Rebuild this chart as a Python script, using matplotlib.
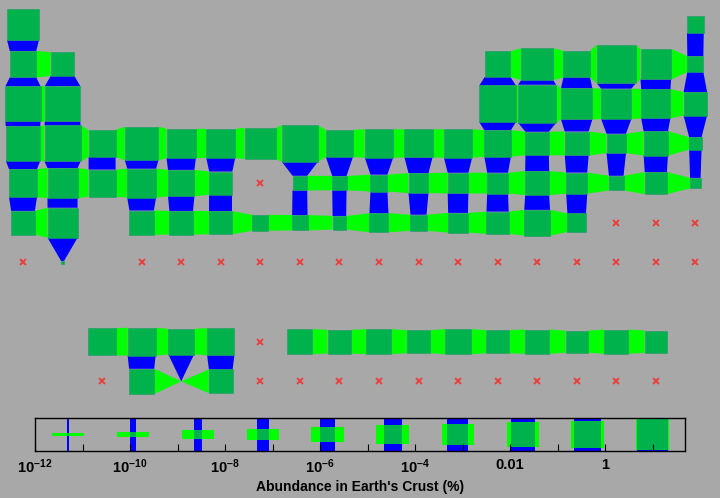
import numpy as np
import matplotlib
matplotlib.use("Agg")
import matplotlib.pyplot as plt
from matplotlib.patches import Polygon, Rectangle

# ── data: crust abundance in % by atomic number (nan = no value) ──────────────
SYMBOLS = [
    "H", "He", "Li", "Be", "B", "C", "N", "O", "F", "Ne",
    "Na", "Mg", "Al", "Si", "P", "S", "Cl", "Ar", "K", "Ca",
    "Sc", "Ti", "V", "Cr", "Mn", "Fe", "Co", "Ni", "Cu", "Zn",
    "Ga", "Ge", "As", "Se", "Br", "Kr", "Rb", "Sr", "Y", "Zr",
    "Nb", "Mo", "Tc", "Ru", "Rh", "Pd", "Ag", "Cd", "In", "Sn",
    "Sb", "Te", "I", "Xe", "Cs", "Ba", "La", "Ce", "Pr", "Nd",
    "Pm", "Sm", "Eu", "Gd", "Tb", "Dy", "Ho", "Er", "Tm", "Yb",
    "Lu", "Hf", "Ta", "W", "Re", "Os", "Ir", "Pt", "Au", "Hg",
    "Tl", "Pb", "Bi", "Po", "At", "Rn", "Fr", "Ra", "Ac", "Th",
    "Pa", "U", "Np", "Pu", "Am", "Cm", "Bk", "Cf", "Es", "Fm",
    "Md", "No", "Lr", "Rf", "Db", "Sg", "Bh", "Hs", "Mt", "Ds",
    "Rg", "Cn", "Nh", "Fl", "Mc", "Lv", "Ts", "Og",
]
nan = np.nan
ABUNDANCE = [
    0.15, 5.5e-7, 1.7e-3, 1.9e-4, 8.7e-4, 0.18, 2e-3, 46.0, 5.4e-2, 3e-7,
    2.3, 2.9, 8.2, 27.0, 0.1, 4.2e-2, 1.7e-2, 1.5e-4, 1.5, 5.0,
    2.6e-3, 0.66, 1.9e-2, 1.4e-2, 0.11, 6.3, 3e-3, 9e-3, 6.8e-3, 7.9e-3,
    1.9e-3, 1.4e-4, 2.1e-4, 5e-6, 3e-4, 1.5e-8, 6e-3, 3.6e-2, 2.9e-3, 1.3e-2,
    1.7e-3, 1.1e-4, nan, 9.9e-8, 7e-8, 6.3e-7, 7.9e-6, 1.5e-5, 1.6e-5, 2.2e-4,
    2e-5, 9.9e-8, 4.9e-5, 3e-9, 1.9e-4, 3.4e-2, 3.4e-3, 6e-3, 8.7e-4, 3.3e-3,
    nan, 6e-4, 1.8e-4, 5.2e-4, 9.4e-5, 6.2e-4, 1.2e-4, 3e-4, 4.5e-5, 2.8e-4,
    5.6e-5, 3.3e-4, 1.7e-4, 1.1e-4, 2.6e-7, 1.8e-7, 4e-8, 3.7e-6, 3.1e-7, 6.7e-6,
    5.3e-5, 1e-3, 2.5e-6, nan, nan, nan, nan, 6e-12, nan, 6e-4,
    5e-13, 1.8e-4, nan, nan, nan, nan, nan, nan, nan, nan,
    nan, nan, nan, nan, nan, nan, nan, nan, nan, nan,
    nan, nan, nan, nan, nan, nan, nan, nan,
]

# legend glyph abundances (log10 %) and axis ticks
LEGEND_LOG = [-11.31, -9.94, -8.57, -7.2, -5.84, -4.47, -3.1, -1.73, -0.37, 1.0]
TICK_LOG = [-12, -10, -8, -6, -4, -2, 0]
TICK_LABELS = [r"$10^{-12}$", r"$10^{-10}$", r"$10^{-8}$", r"$10^{-6}$",
               r"$10^{-4}$", "0.01", "1"]

# ── style ─────────────────────────────────────────────────────────────────────
BG = "#a8a8a8"
SQUARE = "#00b24c"
HBAR = "#00ff00"
VBAR = "#0000ff"
MISSING = "#e8403c"

W, H = 720, 498
CELL_X, CELL_Y = 39.55, 39.65   # px per table column / row
X0, Y0 = 23.0, 24.5             # px centre of group 1, period 1
SMAX = 38.7                     # px side of the most abundant element
LEG_H = 32.4                    # px height of legend strip

plt.rcParams["font.family"] = ["Liberation Sans", "DejaVu Sans"]
plt.rcParams["font.weight"] = "bold"
plt.rcParams["mathtext.fontset"] = "custom"
plt.rcParams["mathtext.rm"] = "Liberation Sans:bold"
plt.rcParams["mathtext.it"] = "Liberation Sans:bold"
plt.rcParams["mathtext.bf"] = "Liberation Sans:bold"


def grid_pos(z):
    """(column, row) in the table; f-block goes to rows 9 and 10."""
    if z == 1:
        return 1, 1
    if z == 2:
        return 18, 1
    for period, start in [(2, 3), (3, 11)]:
        k = z - start
        if 0 <= k < 8:
            return (k + 1 if k < 2 else k + 11), period
    for period, start in [(4, 19), (5, 37)]:
        k = z - start
        if 0 <= k < 18:
            return k + 1, period
    for period, start in [(6, 55), (7, 87)]:
        k = z - start
        if 0 <= k < 32:
            if k < 2:
                return k + 1, period
            if k < 17:
                return k + 1, period + 3
            return k - 13, period


logs = np.log10(np.array(ABUNDANCE, dtype=float))
lmin, lmax = np.nanmin(logs), np.nanmax(logs)

present = {}
missing = []
for z, (sym, lg) in enumerate(zip(SYMBOLS, logs), start=1):
    pos = grid_pos(z)
    if np.isnan(lg):
        missing.append(pos)
    else:
        present[pos] = SMAX * (lg - lmin) / (lmax - lmin)

fig = plt.figure(figsize=(W / 100, H / 100), dpi=100)
fig.patch.set_facecolor(BG)

# ── main table ────────────────────────────────────────────────────────────────
ax = fig.add_axes([0, 0, 1, 1])
ax.set_xlim(1 - X0 / CELL_X, 1 + (W - X0) / CELL_X)
ax.set_ylim(1 + (H - Y0) / CELL_Y, 1 - Y0 / CELL_Y)
ax.axis("off")

for (c, r), s in present.items():
    hx, hy = s / 2 / CELL_X, s / 2 / CELL_Y
    right = present.get((c + 1, r))
    if right is not None:
        rx, ry = right / 2 / CELL_X, right / 2 / CELL_Y
        ax.add_patch(Polygon([(c + hx, r - hy), (c + 1 - rx, r - ry),
                              (c + 1 - rx, r + ry), (c + hx, r + hy)],
                             closed=True, facecolor=HBAR, edgecolor="none", zorder=1))
    below = present.get((c, r + 1))
    if below is not None:
        bx, by = below / 2 / CELL_X, below / 2 / CELL_Y
        ax.add_patch(Polygon([(c - hx, r + hy), (c + hx, r + hy),
                              (c + bx, r + 1 - by), (c - bx, r + 1 - by)],
                             closed=True, facecolor=VBAR, edgecolor="none", zorder=1))

for (c, r), s in present.items():
    hx, hy = s / 2 / CELL_X, s / 2 / CELL_Y
    ax.add_patch(Rectangle((c - hx, r - hy), 2 * hx, 2 * hy,
                           facecolor=SQUARE, edgecolor="#1f9a6a", linewidth=0.4, zorder=2))

mc = [p[0] for p in missing]
mr = [p[1] for p in missing]
ax.plot(mc, mr, ls="none", marker="x", ms=4, mew=1.4, color=MISSING, zorder=3)

# ── legend strip ──────────────────────────────────────────────────────────────
lx0, lx1 = -12.0, 1.684
leg = fig.add_axes([35 / W, (H - 450.7) / H, 650 / W, LEG_H / H])
leg.set_facecolor("none")
leg.set_xlim(lx0, lx1)
leg.set_ylim(0, 1)
ppx = 650 / (lx1 - lx0)

for l in LEGEND_LOG:
    s = LEG_H * (l - lmin) / (lmax - lmin)
    w = s / ppx
    h = s / LEG_H
    leg.add_patch(Rectangle((l - w / 2, 0), w, 1, facecolor=VBAR, edgecolor="none"))
    leg.add_patch(Rectangle((l - LEG_H / ppx / 2, 0.5 - h / 2), LEG_H / ppx, h,
                            facecolor=HBAR, edgecolor="none"))
    leg.add_patch(Rectangle((l - w / 2, 0.5 - h / 2), w, h,
                            facecolor=SQUARE, edgecolor="none"))

for sp in leg.spines.values():
    sp.set_color("black")
    sp.set_linewidth(1.0)
leg.set_xticks(TICK_LOG, TICK_LABELS)
leg.set_xticks([-11, -9, -7, -5, -3, -1, 1], minor=True)
leg.set_yticks([])
leg.tick_params(axis="x", which="both", direction="in", length=5, width=0.8,
                top=False, pad=5, labelsize=10.5, labelcolor="black")
for t in leg.get_xticklabels():
    t.set_fontweight("bold")
leg.set_xlabel("Abundance in Earth's Crust (%)", fontsize=10, fontweight="bold",
               labelpad=3)

fig.savefig("out.png", dpi=100, facecolor=fig.get_facecolor())
